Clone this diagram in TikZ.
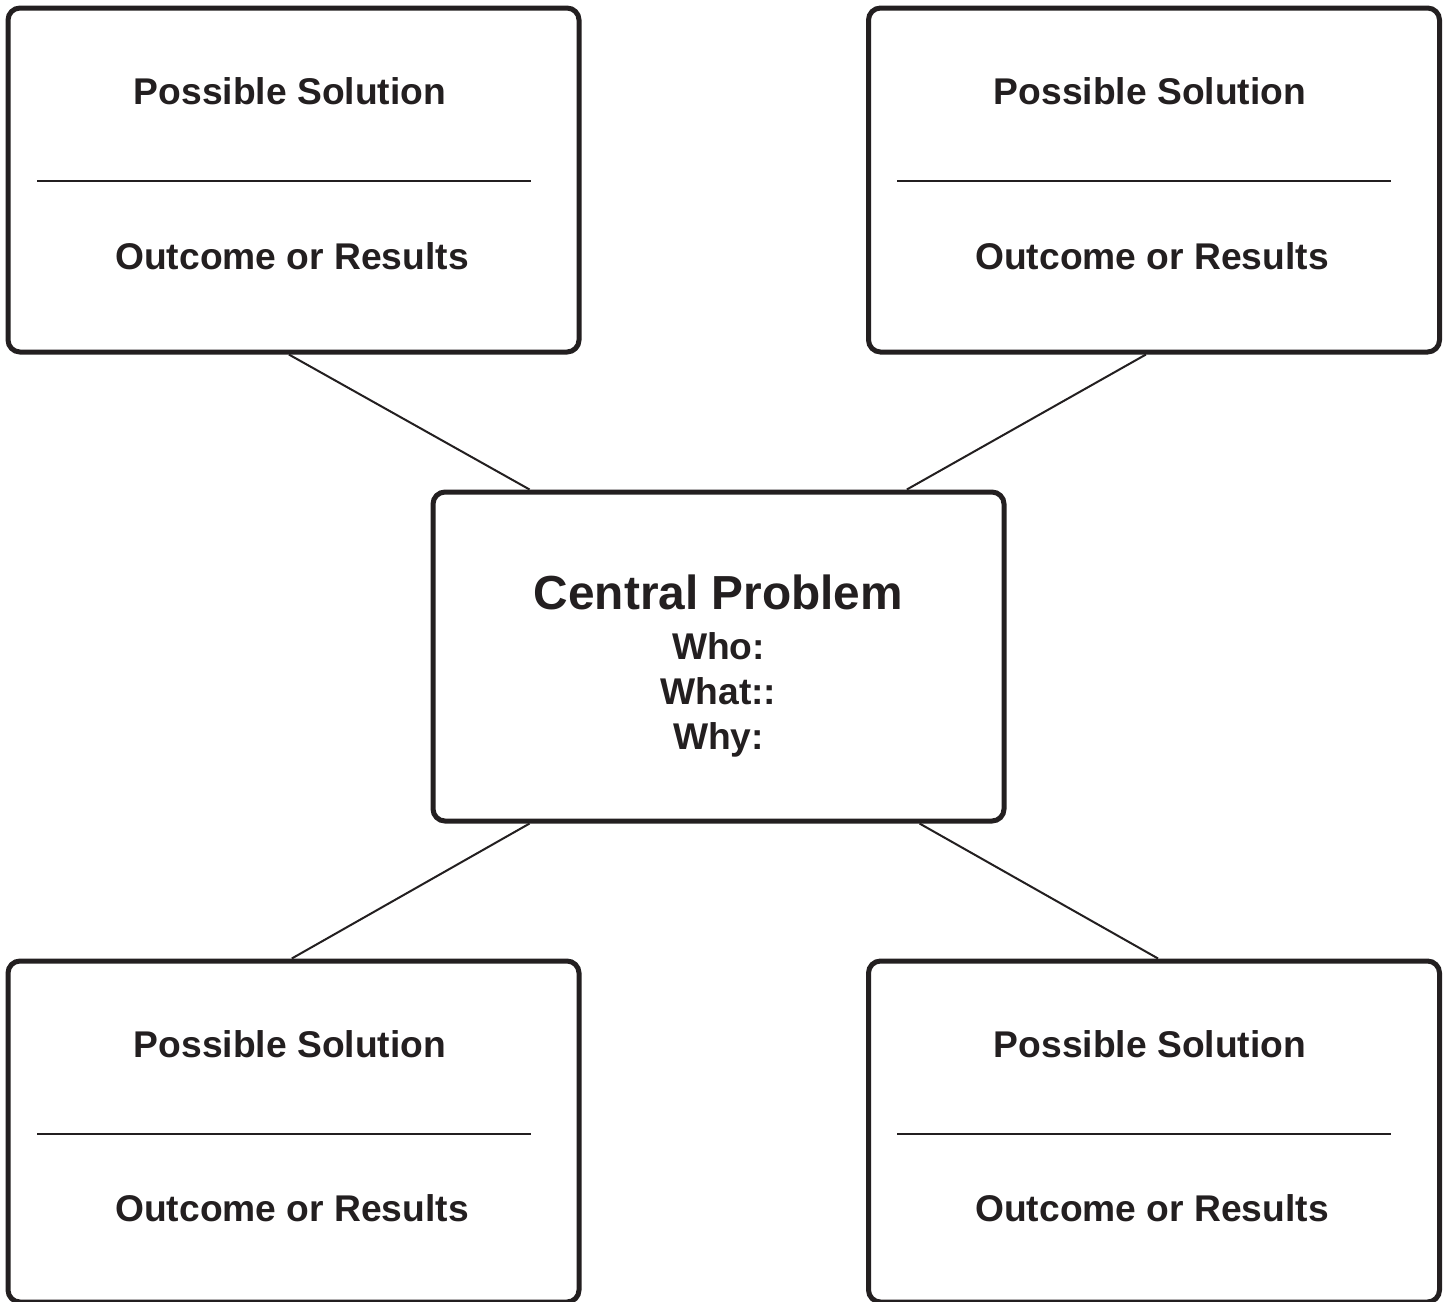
\documentclass[tikz,border=0pt]{standalone}
\usepackage{fontspec}
\setmainfont{Liberation Sans}
\usetikzlibrary{calc}
\definecolor{ink}{HTML}{231F20}
\begin{document}
\begin{tikzpicture}[x=0.5pt,y=-0.5pt,
  box/.style={draw=ink,line width=2.5pt,rounded corners=6pt,minimum width=285.5pt,inner sep=0pt},
  conn/.style={draw=ink,line width=1pt},
  divider/.style={draw=ink,line width=1pt},
  lbl/.style={text=ink,font=\bfseries\fontsize{18.6}{22.5}\selectfont,inner sep=0pt,anchor=center},
  big/.style={text=ink,font=\bfseries\fontsize{23.9}{28}\selectfont,inner sep=0pt}]
\useasboundingbox (0,0) rectangle (1445,1301);
\clip (0,0) rectangle (1445,1301);
\fill[white] (0,0) rectangle (1445,1301);
% boxes
\node[box,minimum height=172pt] (tl) at (293.5,180) {};
\node[box,minimum height=172pt] (tr) at (1154,180) {};
\node[box,minimum height=164.5pt] (c) at (718.5,656.5) {};
\node[box,minimum height=170.5pt] (bl) at (293.5,1131.5) {};
\node[box,minimum height=170.5pt] (br) at (1154,1131.5) {};
% dividers
\coordinate (tlA) at (37,181); \coordinate (tlB) at (531,181);
\coordinate (trA) at (897,181); \coordinate (trB) at (1391,181);
\coordinate (blA) at (37,1134); \coordinate (blB) at (531,1134);
\coordinate (brA) at (897,1134); \coordinate (brB) at (1391,1134);
\draw[divider] (tlA) -- (tlB);
\draw[divider] (trA) -- (trB);
\draw[divider] (blA) -- (blB);
\draw[divider] (brA) -- (brB);
% labels
\node[lbl] (tl1) at (290,91) {Possible Solution};
\node[lbl] (tl2) at (292,256) {Outcome or Results};
\node[lbl] (tr1) at (1150,91) {Possible Solution};
\node[lbl] (tr2) at (1152,256) {Outcome or Results};
\node[lbl] (bl1) at (290,1044) {Possible Solution};
\node[lbl] (bl2) at (292,1208) {Outcome or Results};
\node[lbl] (br1) at (1150,1044) {Possible Solution};
\node[lbl] (br2) at (1152,1208) {Outcome or Results};
\node[big,anchor=base] (ct) at (718.5,609) {Central Problem};
\node[lbl,anchor=base] (cwho) at (718.5,659) {Who:};
\node[lbl,anchor=base] (cwhat) at (718.5,704) {What::};
\node[lbl,anchor=base] (cwhy) at (718.5,749) {Why:};
% connectors
\draw[conn] ($(tl.south west)!0.492!(tl.south east)$) -- ($(c.north west)!0.172!(c.north east)$);
\draw[conn] ($(tr.south west)!0.486!(tr.south east)$) -- ($(c.north west)!0.827!(c.north east)$);
\draw[conn] ($(c.south west)!0.172!(c.south east)$) -- ($(bl.north west)!0.497!(bl.north east)$);
\draw[conn] ($(c.south west)!0.849!(c.south east)$) -- ($(br.north west)!0.507!(br.north east)$);
\end{tikzpicture}
\end{document}
